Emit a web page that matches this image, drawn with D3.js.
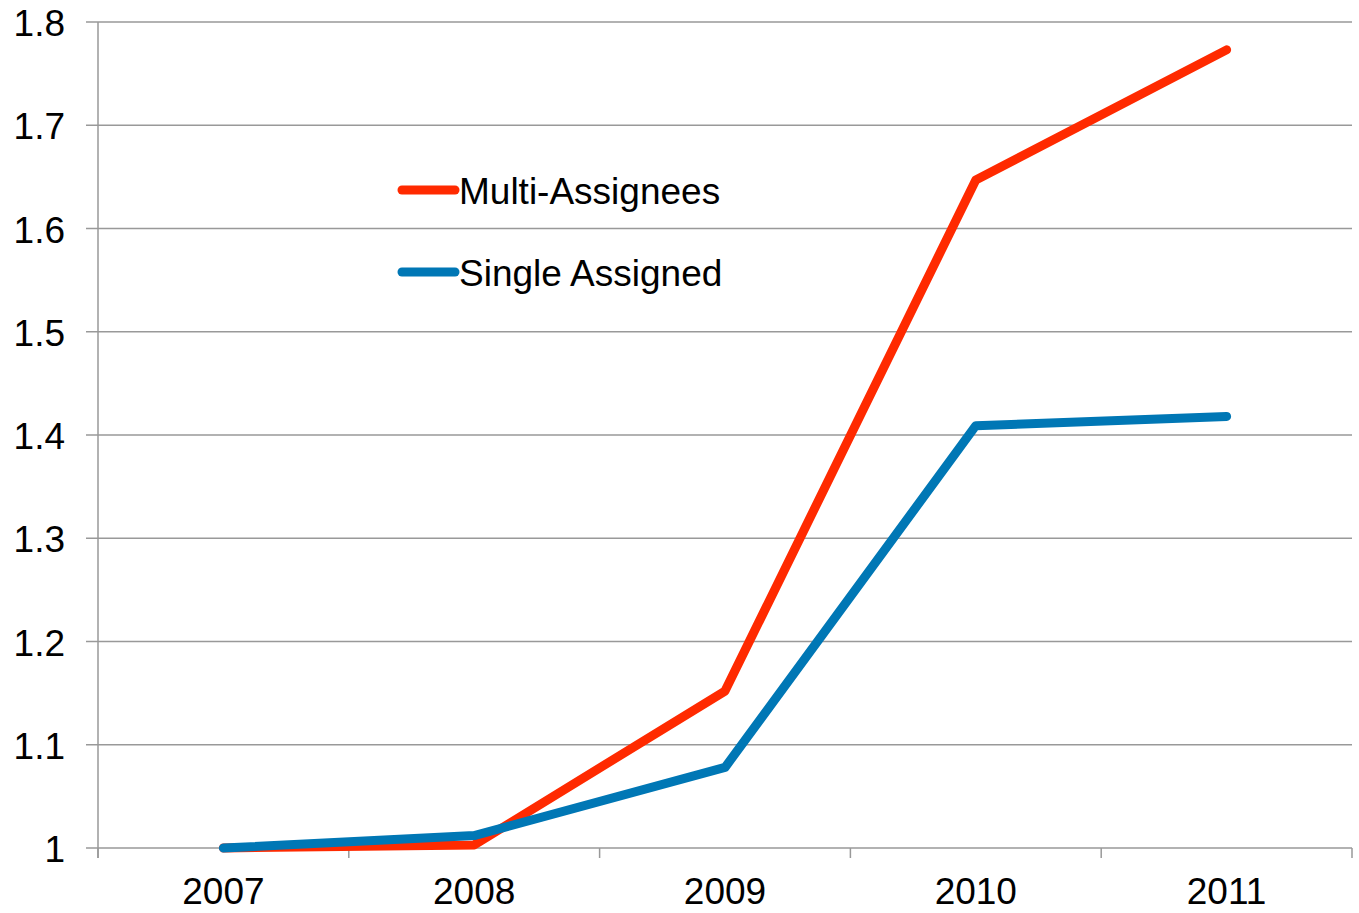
<!DOCTYPE html>
<html lang="en">
<head>
<meta charset="UTF-8">
<title>Multi vs Single Assigned</title>
<script src="https://d3js.org/d3.v7.min.js"></script>
<style>
  body { margin: 0; background: #fff; }
  text { font-family: "Liberation Sans", Arial, sans-serif; fill: #000; }
</style>
</head>
<body>
<svg width="1359" height="913"></svg>
<script>
const years = ["2007", "2008", "2009", "2010", "2011"];
const multiAssignees = [1.0, 1.003, 1.152, 1.647, 1.773];
const singleAssigned = [1.0, 1.012, 1.078, 1.409, 1.418];
const yTicks = [1, 1.1, 1.2, 1.3, 1.4, 1.5, 1.6, 1.7, 1.8];

const series = [
  { name: "Multi-Assignees", values: multiAssignees, color: "#ff2a00" },
  { name: "Single Assigned", values: singleAssigned, color: "#0077b5" }
];

const svg = d3.select("svg");
const plotLeft = 98, plotRight = 1352, plotTop = 22, plotBottom = 848;
const axisColor = "#999";
const fontSize = 37;

const x = d3.scaleBand().domain(years).range([plotLeft, plotRight]);
const y = d3.scaleLinear().domain([1, 1.8]).range([plotBottom, plotTop]);

// gridlines + y ticks
svg.append("g").selectAll("line")
  .data(yTicks)
  .join("line")
  .attr("x1", plotLeft - 12).attr("x2", plotRight)
  .attr("y1", d => y(d)).attr("y2", d => y(d))
  .attr("stroke", axisColor).attr("stroke-width", 1.5);

svg.append("g").selectAll("text")
  .data(yTicks)
  .join("text")
  .attr("x", 65)
  .attr("y", d => y(d) + 14)
  .attr("text-anchor", "end")
  .attr("font-size", fontSize)
  .text(d => d3.format("~g")(d));

// y axis line
svg.append("line")
  .attr("x1", plotLeft).attr("x2", plotLeft)
  .attr("y1", plotTop).attr("y2", plotBottom + 10)
  .attr("stroke", axisColor).attr("stroke-width", 1.5);

// x ticks at band edges
const edges = years.map(d => x(d)).concat([plotRight]);
svg.append("g").selectAll("line")
  .data(edges)
  .join("line")
  .attr("x1", d => d).attr("x2", d => d)
  .attr("y1", plotBottom).attr("y2", plotBottom + 10)
  .attr("stroke", axisColor).attr("stroke-width", 1.5);

svg.append("g").selectAll("text")
  .data(years)
  .join("text")
  .attr("x", d => x(d) + x.bandwidth() / 2)
  .attr("y", 904)
  .attr("text-anchor", "middle")
  .attr("font-size", fontSize)
  .text(d => d);

// lines
const line = d3.line()
  .x((d, i) => x(years[i]) + x.bandwidth() / 2)
  .y(d => y(d));

svg.append("g").selectAll("path")
  .data(series)
  .join("path")
  .attr("d", d => line(d.values))
  .attr("fill", "none")
  .attr("stroke", d => d.color)
  .attr("stroke-width", 9)
  .attr("stroke-linejoin", "round")
  .attr("stroke-linecap", "round");

// legend
const legend = svg.append("g").selectAll("g")
  .data(series)
  .join("g")
  .attr("transform", (d, i) => `translate(402, ${190 + i * 82})`);

legend.append("line")
  .attr("x1", 0).attr("x2", 53)
  .attr("stroke", d => d.color)
  .attr("stroke-width", 9)
  .attr("stroke-linecap", "round");

legend.append("text")
  .attr("x", 57)
  .attr("y", 14)
  .attr("font-size", fontSize)
  .text(d => d.name);
</script>
</body>
</html>
